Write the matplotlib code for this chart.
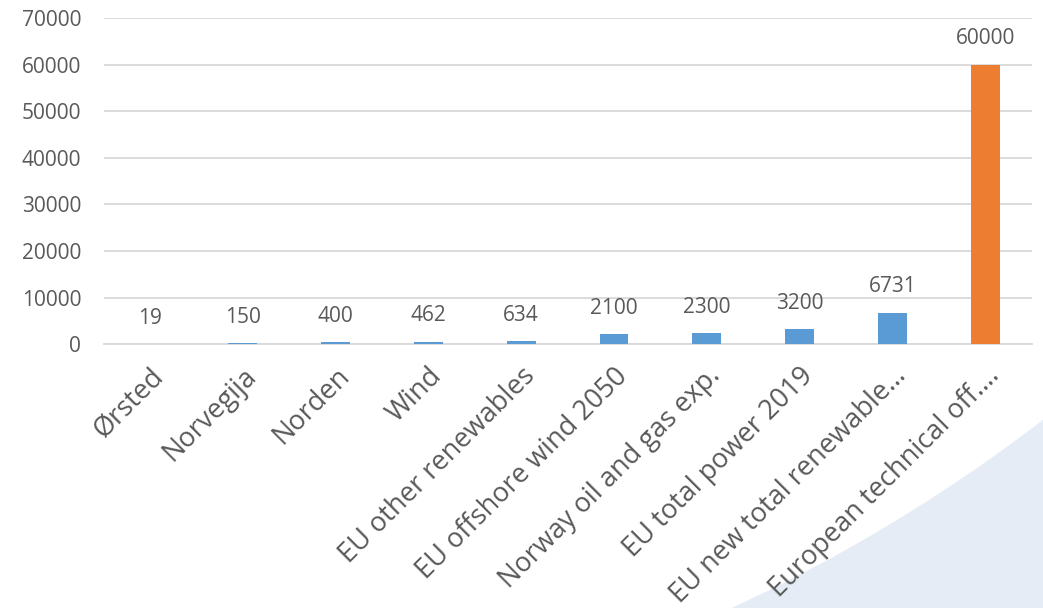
import matplotlib.pyplot as plt
from matplotlib.patches import Ellipse
from matplotlib.transforms import ScaledTranslation

categories = ["Ørsted", "Norvegija", "Norden", "Wind", "EU other renewables",
              "EU offshore wind 2050", "Norway oil and gas exp.", "EU total power 2019",
              "EU new total renewable…", "European technical off…."]
values = [19, 150, 400, 462, 634, 2100, 2300, 3200, 6731, 60000]
colors = ["#5B9BD5"] * 9 + ["#ED7D31"]
yticks = [0, 10000, 20000, 30000, 40000, 50000, 60000, 70000]

plt.rcParams['font.family'] = ['Open Sans', 'DejaVu Sans']
text_color = "#595959"

# light blue background, with a big white circle on top -> blue swoosh bottom right
fig = plt.figure(figsize=(10.43, 6.08), dpi=100, facecolor="#E5ECF6")
W, H = 1043, 608
r = 1625
white = Ellipse((52 / W, 1 + 868 / H), 2 * r / W, 2 * r / H,
                transform=fig.transFigure, facecolor="white", edgecolor="none", zorder=-10)
fig.patches.append(white)

ax = fig.add_axes([0.0993, 0.434, 0.8897, 0.536])
ax.patch.set_alpha(0)

x = range(len(categories))
bars = ax.bar(x, values, width=0.31, color=colors, zorder=3)

for b, v in zip(bars, values):
    ax.annotate(str(v), (b.get_x() + b.get_width() / 2, v),
                xytext=(0, 26), textcoords='offset pixels',
                ha='center', va='center', fontsize=15, color=text_color)

ax.set_xlim(-0.5, len(categories) - 0.5)
ax.set_ylim(0, 70000)
ax.set_yticks(yticks)
ax.set_yticklabels([str(t) for t in yticks], fontsize=15, color=text_color)
ax.set_xticks(list(x))
ax.set_xticklabels(categories, rotation=45, ha='right', va='top', rotation_mode='anchor',
                   fontsize=19.5, color=text_color)
shift = ScaledTranslation(-9 / 100, 0, fig.dpi_scale_trans)
for lbl in ax.get_xticklabels():
    lbl.set_transform(lbl.get_transform() + shift)
ax.tick_params(axis='both', length=0)
ax.tick_params(axis='y', pad=16)
ax.tick_params(axis='x', pad=13)

ax.grid(axis='y', color="#D9D9D9", linewidth=1.3, zorder=0)
for s in ['top', 'right', 'left']:
    ax.spines[s].set_visible(False)
ax.spines['bottom'].set_color("#D9D9D9")
ax.spines['bottom'].set_linewidth(1.3)

fig.savefig("out.png", dpi=100, facecolor=fig.get_facecolor())
